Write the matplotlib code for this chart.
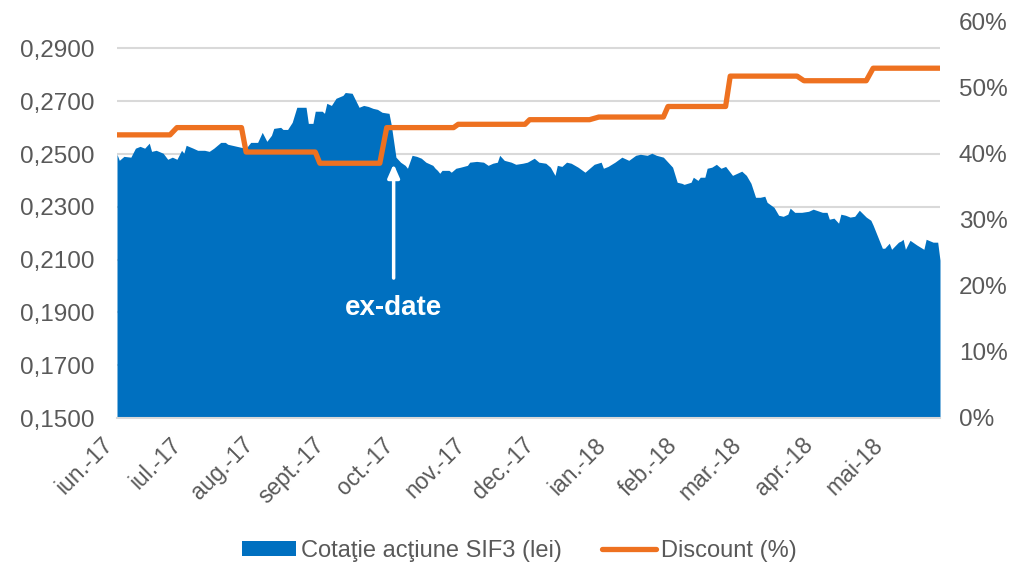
import matplotlib
matplotlib.use("Agg")
import matplotlib.pyplot as plt
import matplotlib.ticker as mticker
import matplotlib.transforms as mtransforms
import pandas as pd

plt.rcParams['font.family'] = ['Liberation Sans', 'DejaVu Sans']

# ---- price series (Cotaţie acţiune SIF3, lei) ----
price_dates = [
    "2017-06-01", "2017-06-02", "2017-06-04", "2017-06-07", "2017-06-09", "2017-06-11", "2017-06-13",
    "2017-06-15", "2017-06-16", "2017-06-18", "2017-06-21", "2017-06-23", "2017-06-25", "2017-06-27",
    "2017-06-29", "2017-06-30", "2017-07-01", "2017-07-04", "2017-07-06", "2017-07-09", "2017-07-11",
    "2017-07-13", "2017-07-16", "2017-07-18", "2017-07-19", "2017-07-21", "2017-07-23", "2017-07-25",
    "2017-07-27", "2017-07-29", "2017-08-01", "2017-08-03", "2017-08-05", "2017-08-07", "2017-08-08",
    "2017-08-11", "2017-08-12", "2017-08-14", "2017-08-16", "2017-08-18", "2017-08-22", "2017-08-23",
    "2017-08-25", "2017-08-26", "2017-08-29", "2017-08-30", "2017-08-31", "2017-09-02", "2017-09-04",
    "2017-09-07", "2017-09-08", "2017-09-11", "2017-09-14", "2017-09-16", "2017-09-18", "2017-09-20",
    "2017-09-22", "2017-09-24", "2017-09-27", "2017-09-28", "2017-09-30", "2017-10-02", "2017-10-04",
    "2017-10-05", "2017-10-07", "2017-10-09", "2017-10-11", "2017-10-13", "2017-10-16", "2017-10-17",
    "2017-10-18", "2017-10-19", "2017-10-20", "2017-10-23", "2017-10-24", "2017-10-26", "2017-10-28",
    "2017-10-31", "2017-11-01", "2017-11-04", "2017-11-07", "2017-11-09", "2017-11-11", "2017-11-13",
    "2017-11-14", "2017-11-16", "2017-11-19", "2017-11-21", "2017-11-24", "2017-11-26", "2017-11-29",
    "2017-12-01", "2017-12-04", "2017-12-06", "2017-12-08", "2017-12-09", "2017-12-11", "2017-12-13",
    "2017-12-15", "2017-12-18", "2017-12-21", "2017-12-23", "2017-12-25", "2017-12-28", "2017-12-29",
    "2017-12-31", "2018-01-03", "2018-01-06", "2018-01-09", "2018-01-12", "2018-01-14", "2018-01-17",
    "2018-01-19", "2018-01-21", "2018-01-24", "2018-01-26", "2018-01-28", "2018-01-30", "2018-02-01",
    "2018-02-02", "2018-02-05", "2018-02-06", "2018-02-08", "2018-02-09", "2018-02-11", "2018-02-12",
    "2018-02-14", "2018-02-16", "2018-02-18", "2018-02-20", "2018-02-23", "2018-02-25", "2018-02-27",
    "2018-03-01", "2018-03-03", "2018-03-05", "2018-03-07", "2018-03-09", "2018-03-10", "2018-03-13",
    "2018-03-15", "2018-03-17", "2018-03-19", "2018-03-20", "2018-03-22", "2018-03-25", "2018-03-28",
    "2018-03-30", "2018-04-03", "2018-04-05", "2018-04-06", "2018-04-08", "2018-04-10", "2018-04-11",
    "2018-04-13", "2018-04-15", "2018-04-17", "2018-04-19", "2018-04-22", "2018-04-24", "2018-04-25",
    "2018-04-29", "2018-04-30", "2018-05-02", "2018-05-03", "2018-05-06", "2018-05-07", "2018-05-08",
    "2018-05-09", "2018-05-11", "2018-05-14", "2018-05-17", "2018-05-18", "2018-05-21", "2018-05-23",
    "2018-05-24",
]
price_values = [
    0.2499, 0.2476, 0.2491, 0.2488, 0.2522, 0.2529, 0.2522,
    0.2541, 0.2510, 0.2514, 0.2503, 0.2480, 0.2488, 0.2480,
    0.2514, 0.2503, 0.2533, 0.2522, 0.2514, 0.2514, 0.2510,
    0.2522, 0.2544, 0.2544, 0.2537, 0.2533, 0.2529, 0.2525,
    0.2522, 0.2544, 0.2544, 0.2582, 0.2548, 0.2571, 0.2597,
    0.2601, 0.2593, 0.2593, 0.2620, 0.2677, 0.2677, 0.2616,
    0.2616, 0.2662, 0.2662, 0.2654, 0.2692, 0.2684, 0.2711,
    0.2722, 0.2733, 0.2730, 0.2677, 0.2684, 0.2680, 0.2673,
    0.2669, 0.2658, 0.2654, 0.2609, 0.2488, 0.2469, 0.2457,
    0.2446, 0.2495, 0.2491, 0.2484, 0.2469, 0.2457, 0.2446,
    0.2438, 0.2427, 0.2438, 0.2438, 0.2431, 0.2446, 0.2450,
    0.2457, 0.2469, 0.2472, 0.2469, 0.2457, 0.2465, 0.2469,
    0.2495, 0.2476, 0.2469, 0.2461, 0.2465, 0.2469, 0.2484,
    0.2469, 0.2465, 0.2450, 0.2419, 0.2457, 0.2453, 0.2469,
    0.2465, 0.2450, 0.2431, 0.2446, 0.2461, 0.2469, 0.2446,
    0.2453, 0.2469, 0.2488, 0.2476, 0.2495, 0.2499, 0.2495,
    0.2503, 0.2495, 0.2488, 0.2469, 0.2450, 0.2393, 0.2389,
    0.2385, 0.2393, 0.2412, 0.2400, 0.2412, 0.2412, 0.2446,
    0.2450, 0.2461, 0.2446, 0.2453, 0.2419, 0.2427, 0.2435,
    0.2419, 0.2389, 0.2336, 0.2336, 0.2340, 0.2317, 0.2298,
    0.2268, 0.2264, 0.2272, 0.2295, 0.2279, 0.2279, 0.2283,
    0.2291, 0.2279, 0.2279, 0.2253, 0.2257, 0.2238, 0.2272,
    0.2268, 0.2261, 0.2264, 0.2287, 0.2261, 0.2249, 0.2230,
    0.2143, 0.2143, 0.2162, 0.2139, 0.2166, 0.2170, 0.2177,
    0.2139, 0.2173, 0.2155, 0.2139, 0.2177, 0.2166, 0.2166,
    0.2098,
]

# ---- discount series (%), step changes ----
disc_dates = [
    "2017-06-01", "2017-06-24", "2017-06-27", "2017-07-25", "2017-07-27",
    "2017-08-26", "2017-08-28", "2017-09-23", "2017-09-26", "2017-10-25",
    "2017-10-27", "2017-11-25", "2017-11-27", "2017-12-23", "2017-12-27",
    "2018-01-24", "2018-01-26", "2018-02-20", "2018-02-22", "2018-03-23",
    "2018-03-26", "2018-04-22", "2018-04-25", "2018-05-24",
]
disc_values = [
    0.429, 0.429, 0.440, 0.440, 0.403,
    0.403, 0.386, 0.386, 0.440, 0.440,
    0.445, 0.445, 0.452, 0.452, 0.456,
    0.456, 0.472, 0.472, 0.518, 0.518,
    0.511, 0.511, 0.530, 0.530,
]

month_labels = ["iun.-17", "iul.-17", "aug.-17", "sept.-17", "oct.-17", "nov.-17",
                "dec.-17", "ian.-18", "feb.-18", "mar.-18", "apr.-18", "mai-18"]
left_ticks = [0.15, 0.17, 0.19, 0.21, 0.23, 0.25, 0.27, 0.29]
right_ticks = [0.0, 0.1, 0.2, 0.3, 0.4, 0.5, 0.6]

series_names = ["Cotaţie acţiune SIF3 (lei)", "Discount (%)"]
ex_date = "2017-09-29"

BLUE = "#0070C0"
ORANGE = "#EE7120"
GRAY_TXT = "#595959"
GRID = "#D9D9D9"

pdates = pd.to_datetime(price_dates)
ddates = pd.to_datetime(disc_dates)

fig = plt.figure(figsize=(10.16, 5.65), dpi=100)
ax = fig.add_axes([117 / 1016, 1 - 418 / 565, (940 - 117) / 1016, (418 - 22) / 565])
ax2 = ax.twinx()

ax.fill_between(pdates, 0.15, price_values, color=BLUE, linewidth=0, zorder=2,
                label=series_names[0])
ax.set_ylim(0.15, 0.30)
ax.set_yticks(left_ticks)
ax.yaxis.set_major_formatter(mticker.FuncFormatter(lambda v, p: f"{v:.4f}".replace(".", ",")))
ax.grid(axis="y", color=GRID, linewidth=1.5, zorder=0)
ax.set_axisbelow(True)

ax2.plot(ddates, disc_values, color=ORANGE, linewidth=3.8, solid_capstyle="round",
         solid_joinstyle="round", label=series_names[1], zorder=3)
ax2.set_ylim(0, 0.6)
ax2.set_yticks(right_ticks)
ax2.yaxis.set_major_formatter(mticker.FuncFormatter(lambda v, p: f"{v * 100:.0f}%"))

start = pd.Timestamp("2017-06-01")
end = pd.Timestamp("2018-05-24")
ax.set_xlim(start, end)
month_ticks = pd.date_range("2017-06-01", periods=len(month_labels), freq="MS")
ax.set_xticks(month_ticks)
ax.set_xticklabels(month_labels, rotation=45, ha="right", va="top")
shift = mtransforms.ScaledTranslation(4 / 100, 0, fig.dpi_scale_trans)
for lab in ax.get_xticklabels():
    lab.set_transform(lab.get_transform() + shift)

for a in (ax, ax2):
    for s in a.spines.values():
        s.set_visible(False)
    a.tick_params(length=0, colors=GRAY_TXT)
ax.spines["bottom"].set_visible(True)
ax.spines["bottom"].set_color(GRID)
ax.spines["bottom"].set_linewidth(1.5)
ax.tick_params(axis="y", labelsize=17.5, pad=16.5)
ax2.tick_params(axis="y", labelsize=17.5, pad=13.5)
ax.tick_params(axis="x", labelsize=16.5, pad=11)

# ex-date annotation
exd = pd.Timestamp(ex_date)
ax.annotate("", xy=(exd, 0.2462), xytext=(exd, 0.2030),
            arrowprops=dict(arrowstyle="-|>,head_width=0.35,head_length=0.8",
                            color="white", lw=2.5, shrinkA=0, shrinkB=0), zorder=5)
ax.text(exd, 0.1916, "ex-date", color="white", fontsize=20, fontweight="bold",
        ha="center", va="center", zorder=5)

h1, l1 = ax.get_legend_handles_labels()
h2, l2 = ax2.get_legend_handles_labels()
leg = fig.legend(h1 + h2, l1 + l2, loc="center", bbox_to_anchor=(519 / 1016, 1 - 551 / 565),
                 ncol=2, frameon=False, fontsize=17, handlelength=2.3, handleheight=0.6,
                 handletextpad=0.2, columnspacing=1.7)
for t in leg.get_texts():
    t.set_color(GRAY_TXT)

fig.savefig("out.png", dpi=100)
